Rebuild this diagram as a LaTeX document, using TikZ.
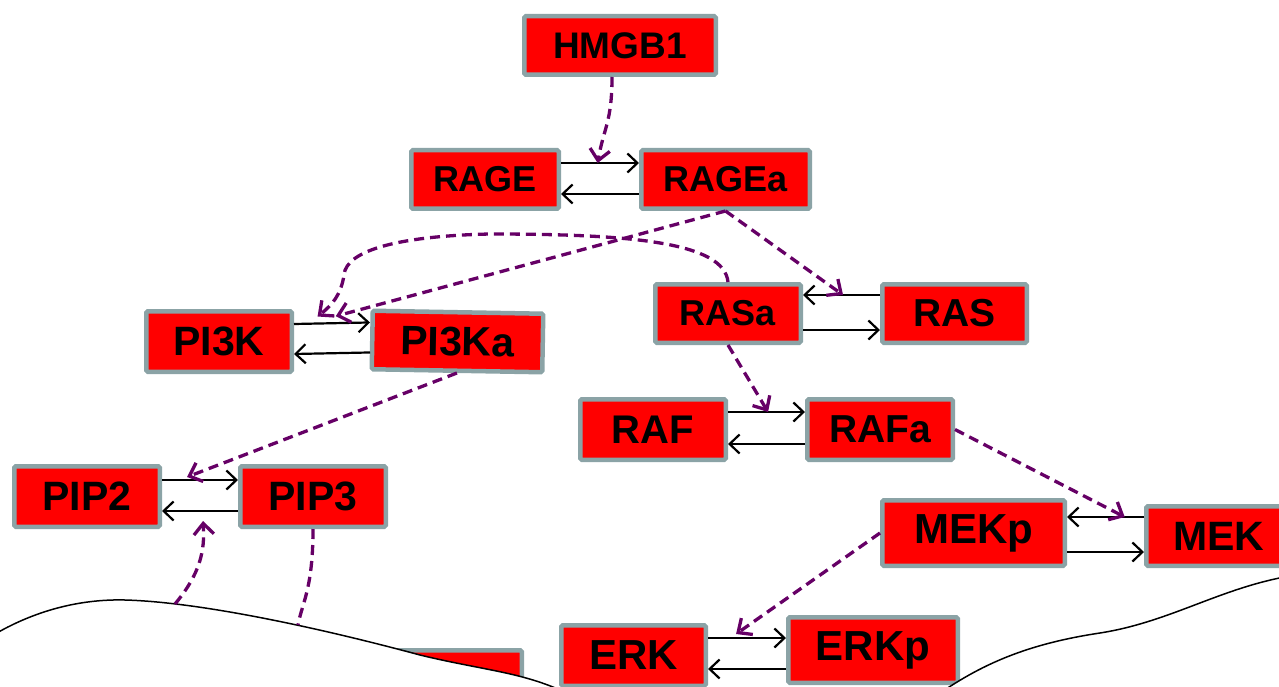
\documentclass[tikz,border=0pt]{standalone}
\usepackage{fontspec}
\setmainfont{Liberation Sans}
\usetikzlibrary{
  arrows.meta,
  calc,
}
\definecolor{boxred}{RGB}{255, 0, 0}
\definecolor{boxgray}{RGB}{139, 163, 166}
\definecolor{actpurple}{RGB}{102, 0, 102}
\newcommand{\protsize}[1]{\fontsize{#1}{#1}\selectfont\bfseries}
\tikzstyle{prot} = [
  rectangle,
  draw=boxgray,
  fill=boxred,
  line width=4.5pt,
  rounded corners=1.5pt,
  inner sep=0pt,
  text=black,
]
\tikzstyle{smalltxt} = [font=\protsize{36}]
\tikzstyle{largetxt} = [font=\protsize{41}]
\tikzstyle{rxn} = [
  -{Straight Barb[length=10pt,width=19pt]},
  line width=2.2pt,
  black,
]
\tikzstyle{act} = [
  -{Straight Barb[length=11pt,width=20pt]},
  line width=3.3pt,
  actpurple,
  dash pattern=on 10pt off 6pt,
]

\begin{document}
\begin{tikzpicture}[x=1pt, y=-1pt]

        \useasboundingbox (0,0) rectangle (1279,687);

        % box hidden behind the membrane
        \node [prot, minimum width=145.5pt, minimum height=60.5pt] (hidden) at (449,680.5) {};

        % membrane, left part
        \filldraw [fill=white, draw=black, line width=1.5pt]
              (-5,634) .. controls (40,608) and (85,599) .. (125,600)
              .. controls (200,602) and (320,628) .. (420,655)
              .. controls (490,672) and (530,672) .. (580,700)
              -- (580,720) -- (-5,720) -- cycle;

        \coordinate (memA) at (175,604);
        \coordinate (memB) at (298,625);

        \node [prot, font=\protsize{37}, minimum width=191.5pt, minimum height=58.5pt] (hmgb) at (620,45.5) {HMGB1};

        \node [prot, smalltxt, minimum width=147.5pt, minimum height=58.5pt] (rage) at (485,179.5) {RAGE};
        \node [prot, smalltxt, minimum width=168.5pt, minimum height=58.5pt] (ragea) at (725.5,179.5) {RAGEa};

        \node [prot, largetxt, minimum width=145.5pt, minimum height=60.5pt] (pi3k) at (219,341.5) {PI3K};
        \node [prot, largetxt, minimum width=170.5pt, minimum height=58.5pt, rotate=-1] (pi3ka) at (457.5,341.5) {PI3Ka};

        \node [prot, smalltxt, minimum width=145.5pt, minimum height=58.5pt] (rasa) at (728,313.5) {RASa};
        \node [prot, font=\protsize{39}, minimum width=144.5pt, minimum height=58.5pt] (ras) at (954.5,313.5) {RAS};

        \node [prot, font=\protsize{40}, minimum width=145.5pt, minimum height=60.5pt] (raf) at (653,429.5) {RAF};
        \node [prot, font=\protsize{39}, minimum width=145.5pt, minimum height=60.5pt] (rafa) at (880,429.5) {RAFa};

        \node [prot, largetxt, minimum width=145.5pt, minimum height=60.5pt] (pip2) at (87,496.5) {PIP2};
        \node [prot, largetxt, minimum width=145.5pt, minimum height=60.5pt] (pip3) at (313,496.5) {PIP3};

        \node [prot, font=\protsize{42}, minimum width=182.5pt, minimum height=65.5pt] (mekp) at (973.5,533) {MEKp};
        \node [prot, largetxt, minimum width=145.5pt, minimum height=59.5pt] (mek) at (1219,536) {MEK};

        \node [prot, font=\protsize{42}, minimum width=144.5pt, minimum height=60.5pt] (erk) at (633.5,655.5) {ERK};
        \node [prot, font=\protsize{42}, minimum width=169.5pt, minimum height=65.5pt] (erkp) at (873,650) {ERKp};

        % reversible steps
        \draw [rxn] ([yshift=16.5pt]rage.east) -- coordinate[pos=0.47] (ragein) ([yshift=16.5pt]ragea.west);
        \draw [rxn] ([yshift=-14.5pt]ragea.west) -- ([yshift=-14.5pt]rage.east);

        \draw [rxn] ([yshift=17.5pt]pi3k.east) -- coordinate[pos=0.31] (pi3kinA) coordinate[pos=0.55] (pi3kinB) ([yshift=17.5pt]pi3ka.west);
        \draw [rxn] ([yshift=-12.5pt]pi3ka.west) -- ([yshift=-12.5pt]pi3k.east);

        \draw [rxn] ([yshift=18.5pt]ras.west) -- coordinate[pos=0.48] (rasin) ([yshift=18.5pt]rasa.east);
        \draw [rxn] ([yshift=-16.5pt]rasa.east) -- ([yshift=-16.5pt]ras.west);

        \draw [rxn] ([yshift=17.5pt]raf.east) -- coordinate[pos=0.52] (rafin) ([yshift=17.5pt]rafa.west);
        \draw [rxn] ([yshift=-14.5pt]rafa.west) -- ([yshift=-14.5pt]raf.east);

        \draw [rxn] ([yshift=16.5pt]pip2.east) -- coordinate[pos=0.33] (pipin) ([yshift=16.5pt]pip3.west);
        \draw [rxn] ([yshift=-14.5pt]pip3.west) -- coordinate[pos=0.46] (pipout) ([yshift=-14.5pt]pip2.east);

        \draw [rxn] ([yshift=19pt]mek.west) -- coordinate[pos=0.25] (mekin) ([yshift=16pt]mekp.east);
        \draw [rxn] ([yshift=-19pt]mekp.east) -- ([yshift=-16pt]mek.west);

        \draw [rxn] ([yshift=17.5pt]erk.east) -- coordinate[pos=0.36] (erkin) ([yshift=12pt]erkp.west);
        \draw [rxn] ([yshift=-19pt]erkp.west) -- ([yshift=-13.5pt]erk.east);

        % activations
        \draw [act] ([xshift=-8pt]hmgb.south) .. controls +(0,45) and +(6,-35) .. (ragein);
        \draw [act] (ragea.south) -- ([yshift=7pt]pi3kinB);
        \draw [act] (ragea.south) -- (rasin);
        \draw [act] (rasa.north) .. controls +(-4,-40) and +(140,0) .. (490,234)
              .. controls (400,236) and (346,250) .. (344,275)
              .. controls (341,295) and (332,305) .. ([yshift=7pt]pi3kinA);
        \draw [act] (rasa.south) -- (rafin);
        \draw [act] (pi3ka.south) -- ([yshift=3pt]pipin);
        \draw [act] (rafa.east) -- (mekin);
        \draw [act] (mekp.west) -- ([yshift=4pt]erkin);
        \draw [act] (memA) .. controls +(25,-30) and +(2,30) .. ([yshift=-10pt]pipout);
        \draw [act, -] (pip3.south) .. controls +(0,60) and +(4,-22) .. (memB);

        % membrane, right part
        \filldraw [fill=white, draw=black, line width=1.5pt]
              (930,700) .. controls (975,668) and (1020,645) .. (1100,633)
              .. controls (1170,622) and (1220,588) .. (1290,576)
              -- (1290,720) -- (930,720) -- cycle;
      \end{tikzpicture}
\end{document}
